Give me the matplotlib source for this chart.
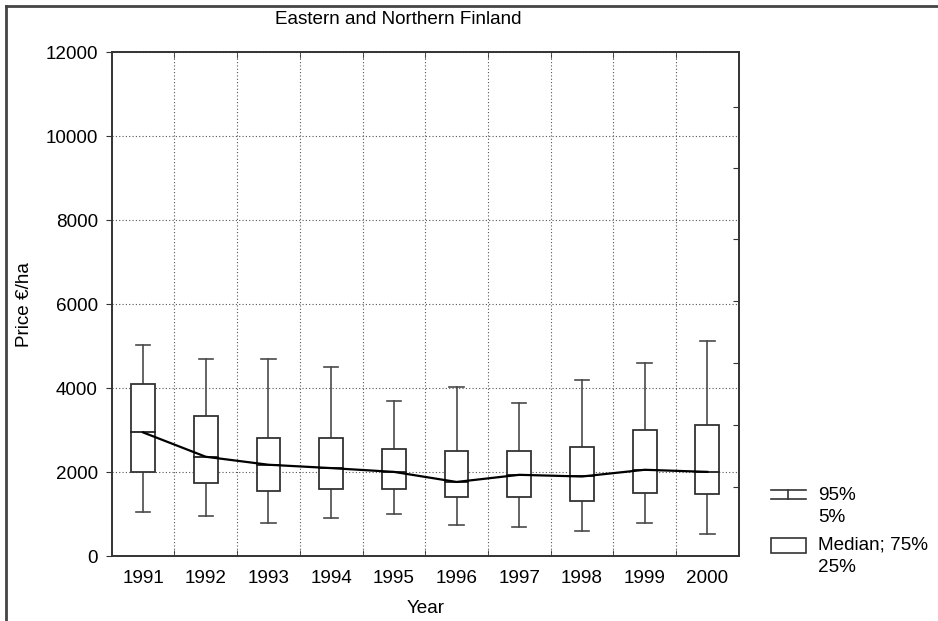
import matplotlib
matplotlib.use("Agg")
import matplotlib.pyplot as plt
from matplotlib.lines import Line2D
from matplotlib.patches import Rectangle

years = ["1991", "1992", "1993", "1994", "1995", "1996", "1997", "1998", "1999", "2000"]
p95 = [5040, 4700, 4700, 4500, 3700, 4030, 3650, 4200, 4610, 5120]
q75 = [4100, 3330, 2810, 2810, 2560, 2510, 2510, 2600, 3010, 3120]
median = [2950, 2370, 2180, 2100, 2010, 1770, 1940, 1900, 2060, 2010]
q25 = [2000, 1740, 1550, 1600, 1600, 1400, 1400, 1310, 1500, 1480]
p5 = [1050, 970, 800, 920, 1010, 750, 690, 600, 790, 540]
yticks = [0, 2000, 4000, 6000, 8000, 10000, 12000]

plt.rcParams['font.family'] = ['Liberation Sans', 'DejaVu Sans']
FS = 13.6

fig = plt.figure(figsize=(9.38, 6.21), dpi=100)
ax = fig.add_axes([111.7 / 938, 1 - 556.3 / 621, (738.7 - 111.7) / 938, (556.3 - 52.3) / 621])

n = len(years)
xs = list(range(n))
bw = 0.38
cw = 0.23
wcol = '#4a4a4a'
for i in xs:
    ax.plot([i, i], [q75[i], p95[i]], color=wcol, lw=1.2, zorder=2)
    ax.plot([i, i], [p5[i], q25[i]], color=wcol, lw=1.2, zorder=2)
    ax.plot([i - cw / 2, i + cw / 2], [p95[i], p95[i]], color=wcol, lw=1.2, zorder=2)
    ax.plot([i - cw / 2, i + cw / 2], [p5[i], p5[i]], color=wcol, lw=1.2, zorder=2)
    ax.add_patch(Rectangle((i - bw / 2, q25[i]), bw, q75[i] - q25[i], facecolor='white',
                           edgecolor='#333333', lw=1.3, zorder=3))
    ax.plot([i - bw / 2, i + bw / 2], [median[i], median[i]], color='#222222', lw=1.3, zorder=4)
ax.plot(xs, median, color='black', lw=1.6, zorder=5)

ax.set_xlim(-0.5, n - 0.5)
ax.set_ylim(0, 12000)
ax.set_yticks(yticks)
ax.set_yticklabels([str(v) for v in yticks])
ax.set_xticks(xs)
ax.set_xticklabels(years)
ax.set_xticks([i + 0.5 for i in range(n - 1)], minor=True)
ax.tick_params(axis='x', which='major', length=0, labelsize=FS, pad=10)
ax.tick_params(axis='x', which='minor', length=4, direction='in', top=True, bottom=True, color='#333333')
ax.tick_params(axis='y', which='major', length=4, direction='out', labelsize=FS, pad=6, color='#333333')
ax.grid(True, axis='y', which='major', linestyle=(0, (1, 2)), color='#555555', lw=0.8)
ax.grid(True, axis='x', which='minor', linestyle=(0, (1, 2)), color='#555555', lw=0.8)
ax.set_axisbelow(True)
for s in ax.spines.values():
    s.set_color('#333333')
    s.set_linewidth(1.4)

ax2 = ax.twinx()
ax2.set_ylim(0, 12000)
ax2.set_yticks([1650, 3126, 4605, 6079, 7555, 9252, 10705])
ax2.tick_params(axis='y', direction='in', length=4, labelright=False, color='#333333')
for s in ax2.spines.values():
    s.set_visible(False)

ax.set_xlabel('Year', fontsize=FS, labelpad=9)
ax.set_ylabel('Price €/ha', fontsize=FS, labelpad=9)
fig.text(398 / 938, 1 - 20 / 621, 'Eastern and Northern Finland', ha='center', va='center', fontsize=FS)

def fx(px):
    return px / 938
def fy(py):
    return 1 - py / 621
lc = '#333333'
fig.add_artist(Line2D([fx(771), fx(806)], [fy(490), fy(490)], color=lc, lw=1.2))
fig.add_artist(Line2D([fx(771), fx(806)], [fy(499), fy(499)], color=lc, lw=1.2))
fig.add_artist(Line2D([fx(788), fx(788)], [fy(490), fy(499)], color=lc, lw=1.2))
fig.add_artist(Rectangle((fx(771), fy(553)), fx(806) - fx(771), fy(538) - fy(553),
                         facecolor='white', edgecolor=lc, lw=1.2))
fig.text(fx(818), fy(495), '95%', ha='left', va='center', fontsize=FS)
fig.text(fx(818), fy(518), '5%', ha='left', va='center', fontsize=FS)
fig.text(fx(818), fy(545), 'Median; 75%', ha='left', va='center', fontsize=FS)
fig.text(fx(818), fy(567), '25%', ha='left', va='center', fontsize=FS)

fig.add_artist(Line2D([fx(6), fx(6)], [0, fy(6)], color='#444444', lw=2.0))
fig.add_artist(Line2D([fx(6), 1], [fy(6), fy(6)], color='#444444', lw=2.0))

fig.savefig('out.png', dpi=100)
